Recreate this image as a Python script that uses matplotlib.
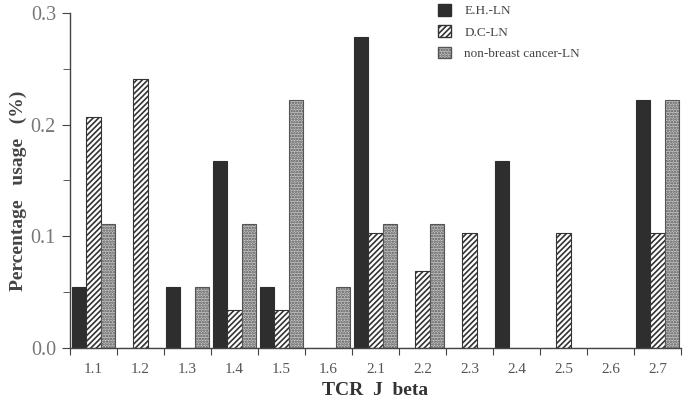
import matplotlib
matplotlib.use("Agg")
import matplotlib.pyplot as plt
from matplotlib.patches import Patch
import numpy as np

plt.rcParams['font.family'] = ['Liberation Serif', 'DejaVu Serif']
plt.rcParams['hatch.linewidth'] = 1.2

categories = ['1.1', '1.2', '1.3', '1.4', '1.5', '1.6', '2.1', '2.2', '2.3', '2.4', '2.5', '2.6', '2.7']
eh_ln = [0.055, 0, 0.055, 0.167, 0.055, 0, 0.278, 0, 0, 0.167, 0, 0, 0.222]
dc_ln = [0.207, 0.241, 0, 0.034, 0.034, 0, 0.103, 0.069, 0.103, 0, 0.103, 0, 0.103]
nb_ln = [0.111, 0, 0.055, 0.111, 0.222, 0.055, 0.111, 0.111, 0, 0, 0, 0, 0.222]
series_names = ['E.H.-LN', 'D.C-LN', 'non-breast cancer-LN']

fig = plt.figure(figsize=(6.85, 4.01), dpi=100)
ax = fig.add_axes([0.102, 0.132, 0.892, 0.836])

x = np.arange(len(categories))
w = 0.305
ax.bar(x - w, eh_ln, w, color='#2e2e2e', edgecolor='#2e2e2e', linewidth=0.8)
ax.bar(x, dc_ln, w, color='white', edgecolor='#333333', hatch='//////', linewidth=0.8)
ax.bar(x + w, nb_ln, w, color='#c4c4c4', edgecolor='#555555', hatch='......', linewidth=0.8)

ax.set_xlim(-0.5, len(categories) - 0.5)
ax.set_ylim(0, 0.3)
ax.set_yticks([0.0, 0.1, 0.2, 0.3])
ax.set_yticklabels(['0.0', '0.1', '0.2', '0.3'])
ax.set_yticks([0.05, 0.15, 0.25], minor=True)

# tick marks between categories, labels at centres
ax.set_xticks(np.arange(len(categories) + 1) - 0.5)
ax.set_xticklabels([])
ax.set_xticks(x, minor=True)
ax.set_xticklabels(categories, minor=True)
ax.tick_params(axis='x', which='major', length=5, color='#444444', direction='out')
ax.tick_params(axis='x', which='minor', length=0, pad=11, labelsize=11, labelcolor='#555555')
ax.tick_params(axis='y', which='major', length=6, color='#444444', labelsize=14.5, labelcolor='#777777', pad=4)
ax.tick_params(axis='y', which='minor', length=5, color='#444444')

for s in ['top', 'right']:
    ax.spines[s].set_visible(False)
for s in ['left', 'bottom']:
    ax.spines[s].set_color('#444444')
    ax.spines[s].set_linewidth(1.0)

ax.set_ylabel('Percentage   usage   (%)', fontsize=14, fontweight='bold', color='#444444')
ax.yaxis.set_label_coords(-0.07, 0.47)
ax.set_xlabel('TCR  J  beta', fontsize=14, fontweight='bold', color='#333333', labelpad=4)

handles = [Patch(facecolor='#2e2e2e', edgecolor='#2e2e2e'),
           Patch(facecolor='white', edgecolor='#333333', hatch='//////'),
           Patch(facecolor='#c4c4c4', edgecolor='#555555', hatch='......')]
leg = ax.legend(handles, series_names, loc='upper left', bbox_to_anchor=(0.583, 1.062),
                frameon=False, fontsize=9.5, handlelength=1.0, handleheight=1.0,
                labelspacing=0.6, handletextpad=1.0)
for t in leg.get_texts():
    t.set_color('#444444')

fig.savefig('out.png', dpi=100)
